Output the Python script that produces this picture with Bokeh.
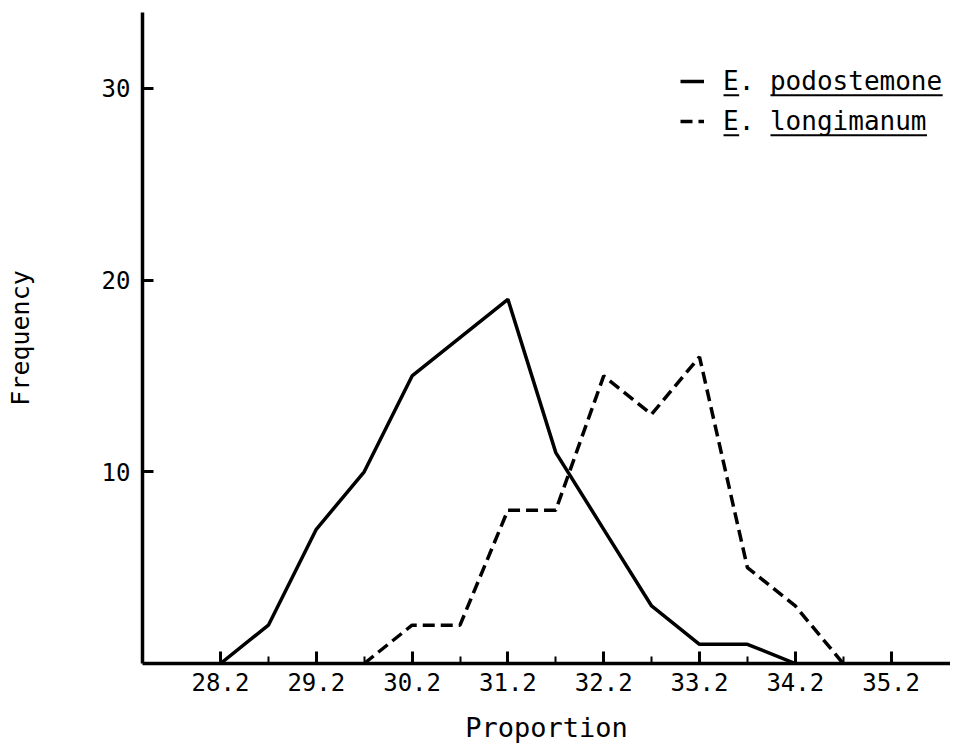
from bokeh.plotting import figure
from bokeh.models import Range1d, FixedTicker, Legend, LegendItem, BoxAnnotation
from bokeh.embed import file_html
from bokeh.resources import INLINE

# ---- data ----
proportion_podostemone = [28.2, 28.7, 29.2, 29.7, 30.2, 30.7, 31.2, 31.7, 32.2, 32.7, 33.2, 33.7, 34.2]
frequency_podostemone = [0, 2, 7, 10, 15, 17, 19, 11, 7, 3, 1, 1, 0]

proportion_longimanum = [29.7, 30.2, 30.7, 31.2, 31.7, 32.2, 32.7, 33.2, 33.7, 34.2, 34.7]
frequency_longimanum = [0, 2, 2, 8, 8, 15, 13, 16, 5, 3, 0]

x_ticks = [28.2, 29.2, 30.2, 31.2, 32.2, 33.2, 34.2, 35.2]
x_minor_ticks = [28.7, 29.7, 30.7, 31.7, 32.7, 33.7, 34.7]
y_ticks = [10, 20, 30]

series_labels = ["E. podostemone", "E. longimanum"]

FONT = "DejaVu Sans Mono"

# ---- layout (pixel targets of the frame) ----
W, H = 950, 745
FL, FT, FB = 142, 12, 664          # frame left / top / bottom in canvas px
FR = W                              # frame right
PX_PER_X = 95.8
PX_PER_Y = 19.2
X_START = x_ticks[0] - (220 - FL) / PX_PER_X
X_END = x_ticks[0] + (FR - 220) / PX_PER_X
Y_START = 0
Y_END = (FB - FT) / PX_PER_Y

p = figure(width=W, height=H, output_backend="svg", toolbar_location=None,
           x_range=Range1d(X_START, X_END), y_range=Range1d(Y_START, Y_END),
           min_border_left=FL, min_border_right=0,
           min_border_top=FT, min_border_bottom=H - FB)
p.background_fill_color = "white"
p.border_fill_color = "white"
p.outline_line_color = None
p.grid.visible = False

r1 = p.line(proportion_podostemone, frequency_podostemone, line_width=3.5, line_color="black")
r2 = p.line(proportion_longimanum, frequency_longimanum, line_width=3.5, line_color="black",
            line_dash="12 6")

# ---- axes ----
for ax in (p.xaxis[0], p.yaxis[0]):
    ax.axis_line_width = 3.5
    ax.axis_line_color = "black"
    ax.major_tick_line_width = 3
    ax.major_tick_line_color = "black"
    ax.minor_tick_line_width = 2
    ax.minor_tick_line_color = "black"
    ax.major_tick_out = 0
    ax.minor_tick_out = 0
    ax.major_label_text_font = FONT
    ax.major_label_text_font_size = "24px"
    ax.major_label_text_color = "black"
    ax.axis_label_text_font = FONT
    ax.axis_label_text_font_style = "normal"
    ax.axis_label_text_color = "black"

p.xaxis.ticker = FixedTicker(ticks=x_ticks, minor_ticks=x_minor_ticks)
p.xaxis.major_label_overrides = {t: f"{t:.1f}" for t in x_ticks}
p.xaxis.major_tick_in = 12
p.xaxis.minor_tick_in = 7
p.xaxis.major_label_standoff = 9
p.xaxis.axis_label = "Proportion"
p.xaxis.axis_label_text_font_size = "27px"
p.xaxis.axis_label_standoff = 18

p.yaxis.ticker = FixedTicker(ticks=y_ticks, minor_ticks=[])
p.yaxis.major_tick_in = 11
p.yaxis.minor_tick_in = 0
p.yaxis.major_label_standoff = 12
p.yaxis.axis_label = "Frequency"
p.yaxis.axis_label_text_font_size = "25px"
p.yaxis.axis_label_standoff = 64

# ---- legend ----
LEG_FONT_PX = 26
GLYPH_W, STANDOFF = 24, 19
LEG_LEFT, LEG_BOTTOM = 680, 142     # canvas px
legend = Legend(
    items=[LegendItem(label=series_labels[0], renderers=[r1]),
           LegendItem(label=series_labels[1], renderers=[r2])],
    location=(LEG_LEFT - FL, FB - LEG_BOTTOM),
    glyph_width=GLYPH_W, glyph_height=40, label_height=40, label_standoff=STANDOFF,
    spacing=0, padding=0, margin=0,
    border_line_color=None, background_fill_alpha=0,
    label_text_font=FONT, label_text_font_size=f"{LEG_FONT_PX}px", label_text_color="black",
)
p.add_layout(legend)


# underlines of the typed legend text (canvas px -> data units)
def dx(sx):
    return X_START + (sx - FL) / PX_PER_X


def dy(sy):
    return Y_START + (FB - sy) / PX_PER_Y


cw = 0.6021 * LEG_FONT_PX
label_left = LEG_LEFT + GLYPH_W + STANDOFF
for row, lab in enumerate(series_labels):
    sy = 95 + row * 40
    word_len = len(lab) - 3
    for a, b in ((0, 1), (3, 3 + word_len)):
        p.add_layout(BoxAnnotation(left=dx(label_left + a * cw), right=dx(label_left + b * cw),
                                   top=dy(sy - 1), bottom=dy(sy + 1),
                                   fill_color="black", fill_alpha=1, line_alpha=0))

open("out.html", "w").write(file_html(p, INLINE))
